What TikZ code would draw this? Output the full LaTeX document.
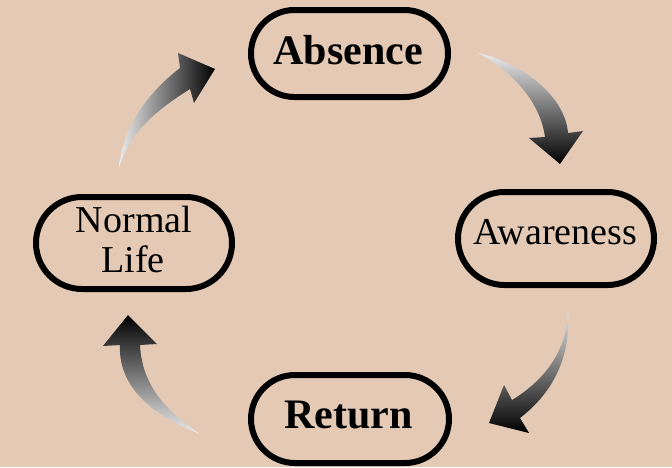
\documentclass[tikz,border=0pt]{standalone}
\usepackage{fontspec}
\setmainfont{Liberation Serif}
\definecolor{bgc}{RGB}{228,202,181}
\definecolor{tailc}{RGB}{235,235,235}
\tikzset{
  pill/.style={draw=black, line width=6pt, rectangle, inner sep=0pt},
  bigbold/.style={font=\fontsize{42}{46}\selectfont\bfseries, inner sep=0pt},
  bigreg/.style={font=\fontsize{38}{40}\selectfont, inner sep=0pt},
  cyclearrow/.style={draw=none}
}
\begin{document}
\begin{tikzpicture}[x=1pt,y=-1pt]
\fill[bgc] (0,0) rectangle (672,467);
\useasboundingbox (0,0) rectangle (672,467);

% pills
\node[pill, minimum width=197pt, minimum height=87pt, rounded corners=43.5pt] (absence) at (349.5,53.5) {};
\node[pill, minimum width=196pt, minimum height=93pt, rounded corners=46.5pt] (awareness) at (556,238.5) {};
\node[pill, minimum width=198pt, minimum height=88pt, rounded corners=44pt] (return) at (350,419) {};
\node[pill, minimum width=196pt, minimum height=92pt, rounded corners=46pt] (normal) at (134,243) {};

% texts
\node[bigbold, anchor=base] (tabs) at (348,64) {Absence};
\node[bigreg, anchor=base] (taw) at (555.5,244) {Awareness};
\node[bigbold, anchor=base] (tret) at (348.5,428) {Return};
\node[bigreg, anchor=base] (tnor) at (134,232) {Normal};
\node[bigreg, anchor=base] (tlife) at (133,272) {Life};

% arrows
\shade[cyclearrow, left color=tailc, right color=black]
  (119,168) .. controls (122,130) and (145,95) .. (180,68) -- (178,53) -- (215,69) -- (194,103) -- (190,89)
  .. controls (160,108) and (130,130) .. (119,168) -- cycle;
\shade[cyclearrow, top color=tailc, bottom color=black]
  (478,53) .. controls (520,62) and (565,95) .. (568,133) -- (583,131) -- (560,164) -- (529,138) -- (545,137)
  .. controls (540,100) and (510,70) .. (478,53) -- cycle;
\shade[cyclearrow, top color=tailc, bottom color=black]
  (568,308) .. controls (572,360) and (550,395) .. (520,418) -- (529,433) -- (489,423) -- (504,385) -- (512,400)
  .. controls (545,380) and (568,350) .. (568,308) -- cycle;
\shade[cyclearrow, bottom color=tailc, top color=black]
  (200,434) .. controls (150,415) and (118,385) .. (120,345) -- (103,346) -- (128,315) -- (157,344) -- (140,345)
  .. controls (142,385) and (165,410) .. (200,434) -- cycle;
\end{tikzpicture}
\end{document}
